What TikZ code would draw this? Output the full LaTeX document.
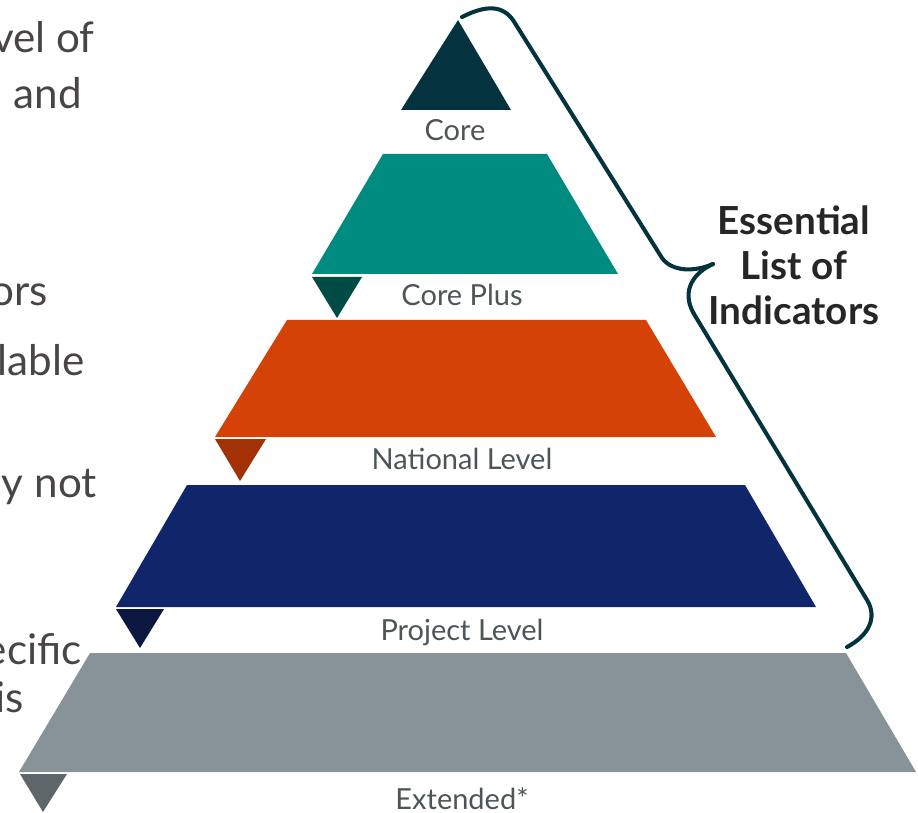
\documentclass[tikz,border=0pt]{standalone}
\usepackage{fontspec}
\setmainfont{Lato}
\usetikzlibrary{positioning}
\definecolor{coreclr}{HTML}{04333F}
\definecolor{plusclr}{HTML}{008B80}
\definecolor{plustip}{HTML}{004B44}
\definecolor{natclr}{HTML}{D44207}
\definecolor{nattip}{HTML}{A23106}
\definecolor{projclr}{HTML}{10256A}
\definecolor{projtip}{HTML}{0B1641}
\definecolor{extclr}{HTML}{879398}
\definecolor{exttip}{HTML}{5E6669}
\definecolor{lblgray}{HTML}{4D5559}
\definecolor{sidegray}{HTML}{4A4545}

\begin{document}
\begin{tikzpicture}[x=0.02cm,y=-0.02cm]
\tikzset{lbl/.style={text=lblgray,font=\fontsize{16.5}{19}\selectfont}}
\tikzset{side/.style={anchor=base east,inner sep=0pt,text=sidegray,font=\fontsize{24}{29}\selectfont}}
\tikzset{brace/.style={draw=coreclr,line width=2.3pt,line cap=round}}

\useasboundingbox (0,0) rectangle (918,813);

% cut-off slide text on the left
\node [side] (s1) at (95,53) {vel of};
\node [side] (s2) at (82,109) {and};
\node [side] (s3) at (48,306) {ors};
\node [side] (s4) at (85,376) {lable};
\node [side] (s5) at (97,497) {y not};
\node [side] (s6) at (82,664) {ecific};
\node [side] (s7) at (24,712) {is};

% pyramid levels
\fill [coreclr] (458,20) -- (511,110) -- (401,110) -- cycle;
\fill [plusclr] (383,154) -- (547,154) -- (618,274) -- (312,274) -- cycle;
\fill [plustip] (312,277) -- (362,277) -- (337,318) -- cycle;
\fill [natclr] (287,320) -- (646,320) -- (716,437) -- (215,437) -- cycle;
\fill [nattip] (215,439) -- (266,439) -- (240,481) -- cycle;
\fill [projclr] (187,485) -- (745,485) -- (816,607) -- (116,607) -- cycle;
\fill [projtip] (116,609) -- (164,609) -- (140,648) -- cycle;
\fill [extclr] (90,653) -- (846,653) -- (916,772) -- (19,772) -- cycle;
\fill [exttip] (20,774) -- (67,774) -- (43,812) -- cycle;

\node [lbl] (core) at (455,130) {Core};
\node [lbl] (plus) at (462,295) {Core Plus};
\node [lbl] (nat) at (462,459) {National Level};
\node [lbl] (proj) at (462,632) {Project Level};
\node [lbl] (ext) at (462,799) {Extended*};

% brace
\draw [brace] (462,17) .. controls (480,8) and (500,2) .. (513,20) -- (662,258)
  .. controls (672,272) and (695,272) .. (713,264);
\draw [brace] (713,264) .. controls (695,272) and (680,290) .. (694,314) -- (867,600)
  .. controls (878,618) and (868,636) .. (847,647);

\node [font=\fontsize{22}{25.5}\selectfont\bfseries,align=center,text=black!85] (eli) at (794,265) {Essential\\List of\\Indicators};
\end{tikzpicture}
\end{document}
